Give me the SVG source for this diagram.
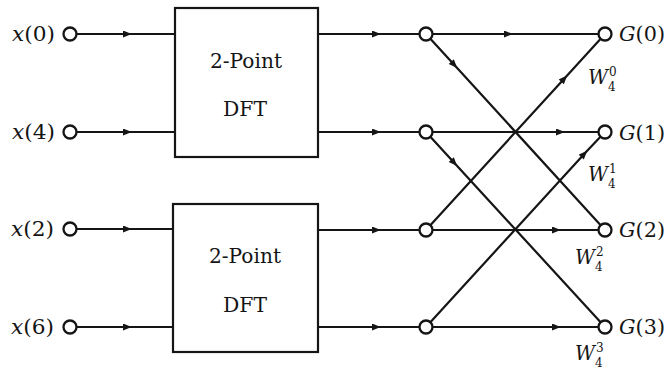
<svg xmlns="http://www.w3.org/2000/svg" width="666" height="369" viewBox="0 0 666 369">
<defs>
<marker id="arr" viewBox="0 0 10 8" refX="8" refY="4" markerWidth="10" markerHeight="7" markerUnits="userSpaceOnUse" orient="auto">
<path d="M0,0 L10,4 L0,8 Z" fill="#151515"/>
</marker>
</defs>
<style>
.w{stroke:#151515;stroke-width:2.2;fill:none;marker-mid:url(#arr)}
.n{stroke:#151515;stroke-width:2.3;fill:#fff}
.box{stroke:#151515;stroke-width:2.2;fill:#fff}
.t{font-family:'DejaVu Serif','Liberation Serif',serif;font-size:20px;fill:#151515}
.i{font-style:italic}
.s{font-family:'DejaVu Serif','Liberation Serif',serif;font-size:12px;fill:#151515}
</style>
<rect width="666" height="369" fill="#fff"/>
<g id="connectors">
<path class="w" d="M70,34 L130,34 L175,34"/>
<path class="w" d="M70,132 L130,132 L175,132"/>
<path class="w" d="M70,229 L130,229 L173,229"/>
<path class="w" d="M70,327 L130,327 L173,327"/>
<path class="w" d="M318,34 L379,34 L426,34"/>
<path class="w" d="M318,132 L379,132 L426,132"/>
<path class="w" d="M318,230 L379,230 L426,230"/>
<path class="w" d="M318,327 L379,327 L426,327"/>
<path class="w" d="M426,34 L511,34 L605,34"/>
<path class="w" d="M426,132 L563,132 L605,132"/>
<path class="w" d="M426,230 L559,230 L605,230"/>
<path class="w" d="M426,327 L559,327 L605,327"/>
<path class="w" d="M426,34 L456,66.8 L605,230"/>
<path class="w" d="M426,132 L456,164.7 L605,327"/>
<path class="w" d="M426,230 L566,76.7 L605,34"/>
<path class="w" d="M426,327 L586,152 L605,132"/>
</g>
<g id="dft1">
<rect class="box" x="175" y="8" width="143" height="149"/>
<text class="t" x="246" y="68" text-anchor="middle" textLength="72" lengthAdjust="spacingAndGlyphs">2-Point</text>
<text class="t" x="245" y="116" text-anchor="middle" textLength="44" lengthAdjust="spacingAndGlyphs">DFT</text>
</g>
<g id="dft2">
<rect class="box" x="173" y="204" width="145" height="148"/>
<text class="t" x="245" y="263" text-anchor="middle" textLength="72" lengthAdjust="spacingAndGlyphs">2-Point</text>
<text class="t" x="245" y="312" text-anchor="middle" textLength="44" lengthAdjust="spacingAndGlyphs">DFT</text>
</g>
<g id="x0"><circle class="n" cx="70" cy="34" r="6.5"/><text class="t" x="12" y="41" textLength="43" lengthAdjust="spacingAndGlyphs"><tspan class="i">x</tspan>(0)</text></g>
<g id="x4"><circle class="n" cx="70" cy="132" r="6.5"/><text class="t" x="12" y="139" textLength="43" lengthAdjust="spacingAndGlyphs"><tspan class="i">x</tspan>(4)</text></g>
<g id="x2"><circle class="n" cx="70" cy="229" r="6.5"/><text class="t" x="11" y="236" textLength="43" lengthAdjust="spacingAndGlyphs"><tspan class="i">x</tspan>(2)</text></g>
<g id="x6"><circle class="n" cx="70" cy="327" r="6.5"/><text class="t" x="11" y="334" textLength="43" lengthAdjust="spacingAndGlyphs"><tspan class="i">x</tspan>(6)</text></g>
<g id="m0"><circle class="n" cx="426" cy="34" r="6.5"/></g>
<g id="m1"><circle class="n" cx="426" cy="132" r="6.5"/></g>
<g id="m2"><circle class="n" cx="426" cy="230" r="6.5"/></g>
<g id="m3"><circle class="n" cx="426" cy="327" r="6.5"/></g>
<g id="g0"><circle class="n" cx="605" cy="34" r="6.5"/><text class="t" x="619" y="41" textLength="46" lengthAdjust="spacingAndGlyphs"><tspan class="i">G</tspan>(0)</text></g>
<g id="g1"><circle class="n" cx="605" cy="132" r="6.5"/><text class="t" x="619" y="140" textLength="46" lengthAdjust="spacingAndGlyphs"><tspan class="i">G</tspan>(1)</text></g>
<g id="g2"><circle class="n" cx="605" cy="230" r="6.5"/><text class="t" x="619" y="237" textLength="46" lengthAdjust="spacingAndGlyphs"><tspan class="i">G</tspan>(2)</text></g>
<g id="g3"><circle class="n" cx="605" cy="327" r="6.5"/><text class="t" x="619" y="334" textLength="46" lengthAdjust="spacingAndGlyphs"><tspan class="i">G</tspan>(3)</text></g>
<g id="w0"><text class="t i" x="588" y="84" textLength="20" lengthAdjust="spacingAndGlyphs">W</text><text class="s" x="609" y="76">0</text><text class="s" x="608" y="91">4</text></g>
<g id="w1"><text class="t i" x="588" y="181" textLength="20" lengthAdjust="spacingAndGlyphs">W</text><text class="s" x="609" y="173">1</text><text class="s" x="608" y="188">4</text></g>
<g id="w2"><text class="t i" x="575" y="264" textLength="20" lengthAdjust="spacingAndGlyphs">W</text><text class="s" x="596" y="256">2</text><text class="s" x="595" y="271">4</text></g>
<g id="w3"><text class="t i" x="575" y="360" textLength="20" lengthAdjust="spacingAndGlyphs">W</text><text class="s" x="596" y="352">3</text><text class="s" x="595" y="367">4</text></g>
</svg>
